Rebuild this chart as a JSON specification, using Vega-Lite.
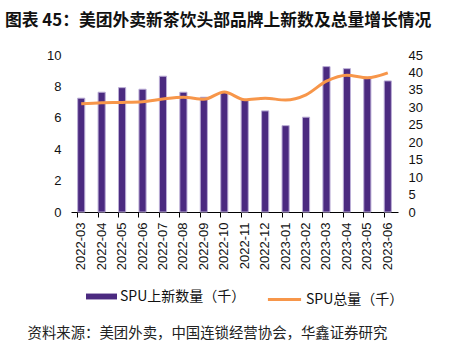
{
  "$schema": "https://vega.github.io/schema/vega-lite/v6.json",
  "width": 327,
  "height": 157,
  "autosize": {"type": "none"},
  "padding": {"left": 71, "top": 55, "right": 62, "bottom": 143},
  "background": "white",
  "title": {
    "text": "图表 45：美团外卖新茶饮头部品牌上新数及总量增长情况",
    "anchor": "start",
    "frame": "group",
    "dx": -66,
    "offset": 19,
    "font": "Noto Sans CJK SC",
    "fontSize": 16.8,
    "fontWeight": "bold",
    "color": "#111111"
  },
  "data": {
    "values": [
      {"month": "2022-03", "new": 7.25, "total": 31.0},
      {"month": "2022-04", "new": 7.63, "total": 31.3},
      {"month": "2022-05", "new": 7.92, "total": 31.4},
      {"month": "2022-06", "new": 7.82, "total": 31.6},
      {"month": "2022-07", "new": 8.65, "total": 32.4},
      {"month": "2022-08", "new": 7.63, "total": 32.9},
      {"month": "2022-09", "new": 7.31, "total": 32.3},
      {"month": "2022-10", "new": 7.63, "total": 34.4},
      {"month": "2022-11", "new": 7.14, "total": 32.2},
      {"month": "2022-12", "new": 6.44, "total": 32.6},
      {"month": "2023-01", "new": 5.5, "total": 32.1},
      {"month": "2023-02", "new": 6.04, "total": 33.6},
      {"month": "2023-03", "new": 9.26, "total": 37.5},
      {"month": "2023-04", "new": 9.13, "total": 39.2},
      {"month": "2023-05", "new": 8.5, "total": 38.5},
      {"month": "2023-06", "new": 8.35, "total": 39.9}
    ]
  },
  "config": {
    "view": {"stroke": null},
    "axis": {"labelFont": "Liberation Sans", "labelColor": "#111111", "grid": false},
    "legend": {"labelFont": "Noto Sans CJK SC", "labelFontSize": 14, "labelColor": "#111111"}
  },
  "encoding": {
    "x": {
      "field": "month",
      "type": "ordinal",
      "sort": null,
      "scale": {"paddingInner": 0.65, "paddingOuter": 0.325},
      "axis": {
        "labelAngle": -90,
        "labelFontSize": 13,
        "labelPadding": 5,
        "bandPosition": 0,
        "tickSize": 5,
        "tickColor": "#000000",
        "domainColor": "#000000",
        "title": "资料来源：美团外卖，中国连锁经营协会，华鑫证券研究",
        "titleFont": "Noto Sans CJK SC",
        "titleFontSize": 14.4,
        "titleFontWeight": "normal",
        "titleColor": "#222222",
        "titleAnchor": null,
        "titleAlign": "left",
        "titleBaseline": "alphabetic",
        "titleX": -44,
        "titleY": 125
      }
    }
  },
  "layer": [
    {
      "mark": {"type": "bar", "stroke": "#BBAED6", "strokeWidth": 1},
      "encoding": {
        "y": {
          "field": "new",
          "type": "quantitative",
          "scale": {"domain": [0, 10]},
          "axis": {
            "title": null,
            "values": [0, 2, 4, 6, 8, 10],
            "domain": false,
            "ticks": false,
            "labelPadding": 10,
            "labelFontSize": 13
          }
        },
        "fill": {
          "datum": "SPU上新数量（千）",
          "scale": {"range": ["#4B2A80"]},
          "legend": {
            "title": null,
            "orient": "none",
            "legendX": 15,
            "legendY": 226,
            "symbolType": "M-1,-0.19H1V0.19H-1Z",
            "symbolSize": 961,
            "symbolStrokeWidth": 0,
            "labelOffset": 3
          }
        }
      }
    },
    {
      "mark": {"type": "line", "interpolate": "monotone", "strokeWidth": 3, "color": "#F7964A"},
      "encoding": {
        "y": {
          "field": "total",
          "type": "quantitative",
          "scale": {"domain": [0, 45]},
          "axis": {
            "orient": "right",
            "title": null,
            "values": [0, 5, 10, 15, 20, 25, 30, 35, 40, 45],
            "domain": false,
            "ticks": false,
            "labelPadding": 10,
            "labelFontSize": 13
          }
        },
        "stroke": {
          "datum": "SPU总量（千）",
          "scale": {"range": ["#F7964A"]},
          "legend": {
            "title": null,
            "orient": "none",
            "legendX": 195,
            "legendY": 226,
            "symbolType": "stroke",
            "symbolSize": 1100,
            "symbolStrokeWidth": 3,
            "labelOffset": 3
          }
        }
      }
    }
  ],
  "resolve": {"scale": {"y": "independent"}}
}
